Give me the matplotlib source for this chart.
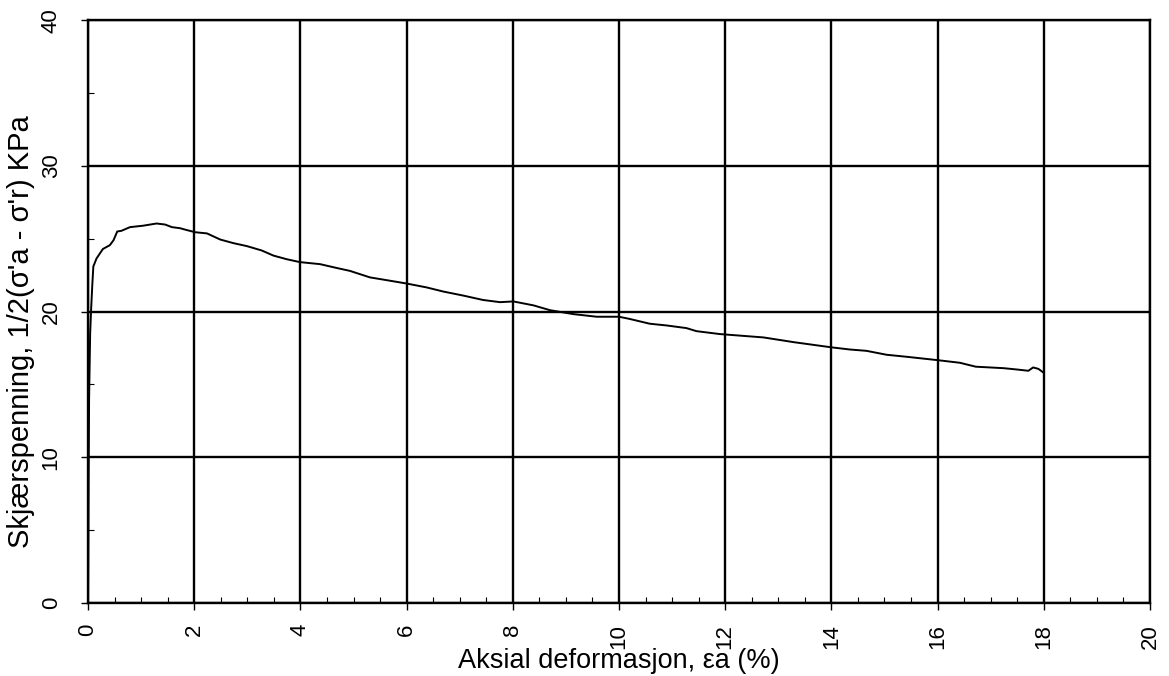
import matplotlib
matplotlib.use("Agg")
import matplotlib.pyplot as plt
from matplotlib.ticker import MultipleLocator

# Aksial deformasjon (%) og skjærspenning (kPa), lest av figuren
strain = [0.0, 0.01, 0.02, 0.04, 0.06, 0.08, 0.10, 0.16, 0.28, 0.41, 0.48, 0.55,
          0.63, 0.79, 1.04, 1.29, 1.45, 1.58, 1.73, 1.86, 2.02, 2.24, 2.49, 2.74,
          2.99, 3.27, 3.49, 3.74, 3.99, 4.37, 4.68, 4.93, 5.31, 5.56, 6.00, 6.38,
          6.69, 7.07, 7.44, 7.76, 8.01, 8.39, 8.70, 9.14, 9.58, 10.0, 10.2, 10.58,
          10.9, 11.27, 11.46, 11.9, 12.22, 12.72, 13.3, 14.0, 14.35, 14.66, 15.04,
          15.42, 16.0, 16.42, 16.72, 17.24, 17.49, 17.71, 17.80, 17.9, 18.0]
stress = [0.0, 8.0, 14.0, 18.5, 20.3, 21.8, 23.1, 23.65, 24.3, 24.56, 24.9, 25.5,
          25.55, 25.8, 25.9, 26.05, 25.98, 25.8, 25.73, 25.6, 25.45, 25.37, 24.95, 24.7,
          24.5, 24.2, 23.85, 23.6, 23.4, 23.26, 23.0, 22.8, 22.35, 22.2, 21.93, 21.66,
          21.38, 21.1, 20.8, 20.65, 20.7, 20.43, 20.1, 19.83, 19.65, 19.65, 19.5, 19.17,
          19.05, 18.87, 18.66, 18.46, 18.37, 18.23, 17.9, 17.55, 17.4, 17.31, 17.04,
          16.9, 16.67, 16.49, 16.22, 16.12, 16.03, 15.94, 16.17, 16.07, 15.8]

x_ticks = [0, 2, 4, 6, 8, 10, 12, 14, 16, 18, 20]
y_ticks = [0, 10, 20, 30, 40]

plt.rcParams['font.family'] = ['Liberation Sans', 'DejaVu Sans']

fig = plt.figure(figsize=(11.69, 6.76), dpi=100)
ax = fig.add_axes([0.0753, 0.108, 0.9084, 0.862])

ax.plot(strain, stress, color="black", linewidth=1.4, zorder=3)

ax.set_xlim(0, 20)
ax.set_ylim(0, 40)
ax.set_xticks(x_ticks)
ax.set_yticks(y_ticks)
ax.xaxis.set_minor_locator(MultipleLocator(0.5))
ax.yaxis.set_minor_locator(MultipleLocator(5))

ax.grid(True, which="major", color="black", linewidth=1.7)
for s in ax.spines.values():
    s.set_linewidth(1.7)

ax.tick_params(axis="both", which="major", direction="out", length=5, width=1,
               labelsize=16, labelrotation=90)
ax.tick_params(axis="x", which="major", pad=10)
ax.tick_params(axis="y", which="major", pad=14)
ax.tick_params(axis="both", which="minor", direction="in", length=4, width=0.8)
for lab in ax.get_yticklabels():
    lab.set_verticalalignment("center")

ax.set_xlabel("Aksial deformasjon, εa (%)", fontsize=19.5)
ax.xaxis.set_label_coords(0.5, -0.077)
ax.set_ylabel("Skjærspenning, 1/2(σ'a - σ'r) KPa", fontsize=21)
ax.yaxis.set_label_coords(-0.050, 0.466)

fig.savefig("out.png", dpi=100)
